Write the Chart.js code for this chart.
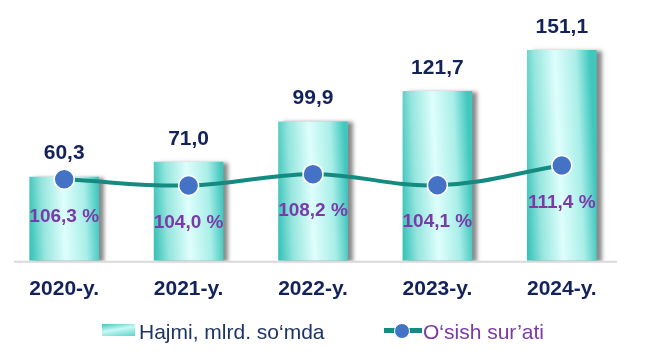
<!DOCTYPE html>
<html>
<head>
<meta charset="utf-8">
<script src="https://cdn.jsdelivr.net/npm/chart.js@4.4.1/dist/chart.umd.min.js"></script>
<style>
  html, body { margin: 0; padding: 0; background: #ffffff; }
  #wrap { position: relative; width: 668px; height: 363px; }
  #legend { position: absolute; left: 0; top: 318px; width: 668px; height: 30px;
            font-family: "Liberation Sans", Arial, sans-serif; font-size: 21px; }
  .li { position: absolute; top: 0; white-space: nowrap; line-height: 28px; }
  .sw-bar { position: absolute; width: 33px; height: 12px; top: 6px;
            background: linear-gradient(170deg, #3ec6bd 0%, #c8f8f5 45%, #5bd4cb 100%); }
  .sw-line { position: absolute; width: 38px; height: 5px; top: 10px; background: #148a80; }
  .sw-dot { position: absolute; width: 14px; height: 14px; border-radius: 50%; top: 5px; background: #4472c4; border: 1px solid #fff; }
</style>
</head>
<body>
<div id="wrap">
  <canvas id="c" width="668" height="363"></canvas>
  <div id="legend">
    <div class="li" style="left:102px;"><span class="sw-bar" style="left:0;"></span><span style="position:absolute;left:37px;color:#1f3466;">Hajmi, mlrd. so‘mda</span></div>
    <div class="li" style="left:384px;"><span class="sw-line" style="left:0;"></span><span class="sw-dot" style="left:10px;"></span><span style="position:absolute;left:39px;color:#7a3aa8;">O‘sish sur’ati</span></div>
  </div>
</div>
<script>
const categories = ["2020-y.", "2021-y.", "2022-y.", "2023-y.", "2024-y."];
const volumeValues = [60.3, 71.0, 99.9, 121.7, 151.1];
const growthValues = [106.3, 104.0, 108.2, 104.1, 111.4];
const volumeLabels = ["60,3", "71,0", "99,9", "121,7", "151,1"];
const growthLabels = ["106,3 %", "104,0 %", "108,2 %", "104,1 %", "111,4 %"];

const FONT = '"Liberation Sans", Arial, sans-serif';

function barGradient(context) {
  const chart = context.chart;
  const area = chart.chartArea;
  if (!area || context.type !== 'data') return '#7fe0d8';
  const xs = chart.scales.x;
  const cx = xs.getPixelForValue(context.dataIndex);
  const w = 70;
  const x0 = cx - w / 2, x1 = cx + w / 2;
  const yb = area.bottom;
  const g = chart.ctx.createLinearGradient(x0, yb - 40, x1, yb - 43);
  g.addColorStop(0, '#3ac3b9');
  g.addColorStop(0.2, '#95e5de');
  g.addColorStop(0.5, '#defefc');
  g.addColorStop(0.8, '#a9eee8');
  g.addColorStop(1, '#40c7be');
  return g;
}

const shadowPlugin = {
  id: 'barShadow',
  beforeDatasetDraw(chart, args) {
    if (args.index !== 0) return;
    const ctx = chart.ctx;
    ctx.save();
    ctx.shadowColor = 'rgba(60,60,60,0.6)';
    ctx.shadowOffsetX = 5;
    ctx.shadowOffsetY = 1;
    ctx.shadowBlur = 4;
  },
  afterDatasetDraw(chart, args) {
    if (args.index !== 0) return;
    chart.ctx.restore();
  }
};

const axisLinePlugin = {
  id: 'axisLine',
  beforeDatasetsDraw(chart) {
    const ctx = chart.ctx;
    const y = chart.chartArea.bottom;
    ctx.save();
    ctx.strokeStyle = '#d9d9d9';
    ctx.lineWidth = 2;
    ctx.beginPath();
    ctx.moveTo(14, y + 1);
    ctx.lineTo(617, y + 1);
    ctx.stroke();
    ctx.restore();
  }
};

const labelPlugin = {
  id: 'valueLabels',
  afterDatasetsDraw(chart) {
    const ctx = chart.ctx;
    ctx.save();
    ctx.textAlign = 'center';
    ctx.textBaseline = 'middle';
    const bars = chart.getDatasetMeta(0).data;
    ctx.font = 'bold 21px ' + FONT;
    ctx.fillStyle = '#14225a';
    bars.forEach((b, i) => ctx.fillText(volumeLabels[i], b.x, b.y - 23));
    const pts = chart.getDatasetMeta(1).data;
    ctx.font = 'bold 19px ' + FONT;
    ctx.fillStyle = '#7a3aa8';
    pts.forEach((p, i) => ctx.fillText(growthLabels[i], p.x, p.y + 37));
    ctx.restore();
  }
};

new Chart(document.getElementById('c'), {
  data: {
    labels: categories,
    datasets: [
      {
        type: 'bar',
        label: 'Hajmi, mlrd. so‘mda',
        data: volumeValues,
        yAxisID: 'y',
        backgroundColor: barGradient,
        borderWidth: 0,
        categoryPercentage: 1,
        barPercentage: 0.56,
        order: 2
      },
      {
        type: 'line',
        label: 'O‘sish sur’ati',
        data: growthValues,
        yAxisID: 'y1',
        borderColor: '#148a80',
        borderWidth: 4,
        tension: 0.4,
        pointRadius: 10,
        pointBackgroundColor: '#4472c4',
        pointBorderColor: '#ffffff',
        pointBorderWidth: 1.5,
        clip: false,
        order: 1
      }
    ]
  },
  options: {
    responsive: false,
    animation: false,
    layout: { autoPadding: false, padding: { top: 0, left: 2, right: 44, bottom: 45 } },
    plugins: { legend: { display: false }, tooltip: { enabled: false } },
    scales: {
      x: {
        grid: { display: false, drawTicks: false },
        border: { display: false },
        ticks: { padding: 16, color: '#14225a', font: { family: FONT, size: 21, weight: 'bold' } }
      },
      y: { display: false, min: 0, max: 187 },
      y1: { display: false, min: 76.2, max: 172.5, position: 'right' }
    }
  },
  plugins: [axisLinePlugin, shadowPlugin, labelPlugin]
});
</script>
</body>
</html>
